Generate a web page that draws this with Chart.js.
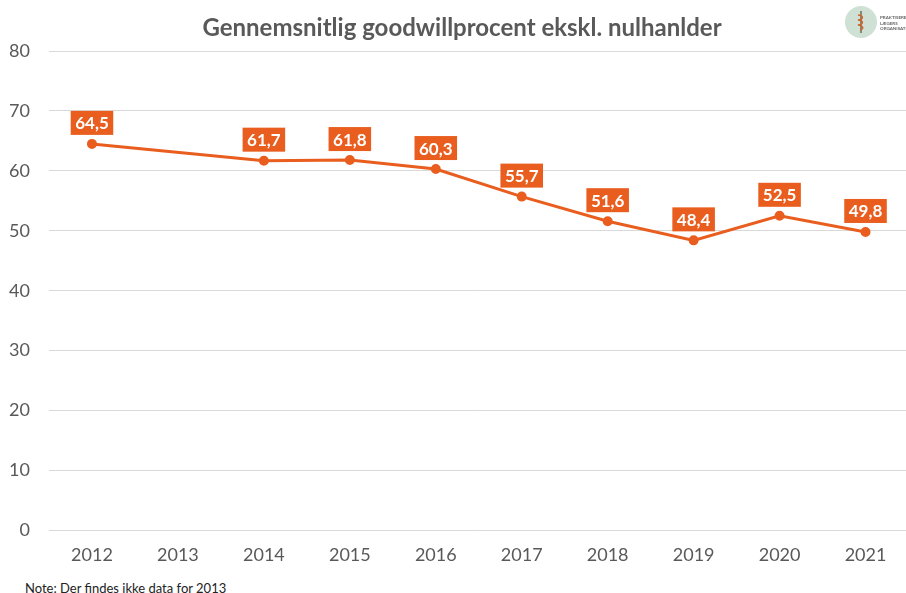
<!DOCTYPE html>
<html>
<head>
<meta charset="utf-8">
<script src="https://cdn.jsdelivr.net/npm/chart.js@4"></script>
<style>
  html, body { margin: 0; padding: 0; background: #fff; overflow: hidden; }
  #wrap { position: relative; width: 906px; height: 593px; overflow: hidden; }
  #chartBox { position: absolute; left: 0; top: 0; width: 915px; height: 580px; }
  #title { position: absolute; left: 0; width: 924px; top: 12px; text-align: center; font: bold 24px Lato, sans-serif; color: #595959; white-space: nowrap; }
  #note { position: absolute; left: 25px; top: 580px; font: 13px Lato, sans-serif; color: #222; }
  #logo { position: absolute; left: 845px; top: 6px; width: 60px; height: 34px; }
  #logo .dot { position: absolute; left: 0; top: 0; width: 32px; height: 32px; border-radius: 50%; background: #cfe0d5; }
  #logo .txt { position: absolute; left: 35px; top: 9px; font: bold 4.5px Lato, sans-serif; line-height: 5.5px; color: #666; }
</style>
</head>
<body>
<div id="wrap">
  <div id="chartBox"><canvas id="goodwillChart"></canvas></div>
  <div id="title">Gennemsnitlig goodwillprocent ekskl. nulhanlder</div>
  <div id="note">Note: Der findes ikke data for 2013</div>
  <div id="logo">
    <div class="dot">
      <svg width="32" height="32" viewBox="0 0 32 32">
        <line x1="16" y1="5" x2="16" y2="27" stroke="#5a4a3a" stroke-width="1.2"/>
        <path d="M13 9 C19 10, 19 13, 13 14 C19 15, 19 18, 13 19 C19 20, 19 23, 15 24" stroke="#d0632a" stroke-width="1.3" fill="none"/>
      </svg>
    </div>
    <div class="txt">PRAKTISERENDE<br>LÆGERS<br>ORGANISATION</div>
  </div>
</div>
<script>
  // data
  const years = ['2012', '2013', '2014', '2015', '2016', '2017', '2018', '2019', '2020', '2021'];
  const goodwill = [64.5, null, 61.7, 61.8, 60.3, 55.7, 51.6, 48.4, 52.5, 49.8];
  const yTicks = [0, 10, 20, 30, 40, 50, 60, 70, 80];

  const orange = '#e95e1e';
  const gray = '#595959';

  // draws the orange value boxes above each point
  const valueBoxes = {
    id: 'valueBoxes',
    afterDatasetsDraw(chart) {
      const ctx = chart.ctx;
      const meta = chart.getDatasetMeta(0);
      ctx.save();
      ctx.font = 'bold 17px Lato, sans-serif';
      ctx.textAlign = 'center';
      ctx.textBaseline = 'middle';
      meta.data.forEach(function(pt, i) {
        const v = goodwill[i];
        if (v === null || v === undefined) return;
        const txt = v.toFixed(1).replace('.', ',');
        const w = ctx.measureText(txt).width + 9;
        const h = 24;
        const cx = pt.x;
        const cy = pt.y - 21;
        ctx.fillStyle = orange;
        ctx.fillRect(cx - w / 2, cy - h / 2, w, h);
        ctx.fillStyle = '#fff';
        ctx.fillText(txt, cx, cy + 1);
      });
      ctx.restore();
    }
  };

  new Chart(document.getElementById('goodwillChart'), {
    type: 'line',
    data: {
      labels: years,
      datasets: [{
        data: goodwill,
        borderColor: orange,
        backgroundColor: orange,
        borderWidth: 3,
        pointRadius: 3.5,
        pointHoverRadius: 3.5,
        spanGaps: true,
        tension: 0
      }]
    },
    options: {
      responsive: true,
      maintainAspectRatio: false,
      animation: false,
      layout: { padding: { left: 0, right: 0, top: 51, bottom: 0 } },
      plugins: {
        legend: { display: false },
        tooltip: { enabled: false }
      },
      scales: {
        x: {
          offset: true,
          grid: { display: false, drawTicks: false },
          border: { display: false },
          ticks: {
            color: gray,
            font: { family: 'Lato', size: 18 },
            padding: 14,
            maxRotation: 0
          }
        },
        y: {
          min: 0,
          max: 80,
          afterFit: function(scale) { scale.width = 49; },
          afterBuildTicks: function(scale) {
            scale.ticks = yTicks.map(v => ({ value: v }));
          },
          grid: { color: '#d9d9d9', lineWidth: 1, drawTicks: false },
          border: { display: false },
          ticks: {
            color: gray,
            font: { family: 'Lato', size: 18 },
            padding: 19
          }
        }
      }
    },
    plugins: [valueBoxes]
  });
</script>
</body>
</html>
